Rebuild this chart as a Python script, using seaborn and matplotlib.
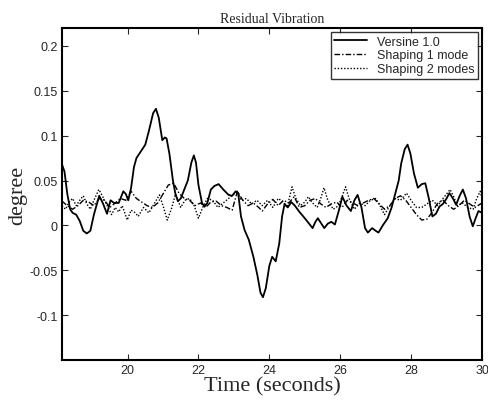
import numpy as np
import pandas as pd
import matplotlib
matplotlib.use("Agg")
import matplotlib.pyplot as plt
import seaborn as sns

# ---- data ----
t_versine = [18.15, 18.22, 18.3, 18.38, 18.45, 18.55, 18.65, 18.75, 18.85, 18.95,
             19.05, 19.2, 19.3, 19.42, 19.52, 19.62, 19.75, 19.88, 19.95, 20.02,
             20.1, 20.18, 20.25, 20.4, 20.5, 20.6, 20.72, 20.8, 20.88, 20.98,
             21.05, 21.1, 21.18, 21.28, 21.35, 21.42, 21.5, 21.6, 21.7, 21.8,
             21.87, 21.93, 22.0, 22.1, 22.17, 22.25, 22.35, 22.45, 22.57, 22.7,
             22.85, 22.95, 23.05, 23.12, 23.2, 23.3, 23.42, 23.55, 23.66, 23.75,
             23.82, 23.9, 24.0, 24.08, 24.18, 24.28, 24.36, 24.43, 24.52, 24.62,
             24.72, 24.85, 25.0, 25.12, 25.22, 25.3, 25.37, 25.45, 25.55, 25.65,
             25.75, 25.85, 25.95, 26.06, 26.18, 26.3, 26.4, 26.49, 26.6, 26.7,
             26.78, 26.9, 27.0, 27.08, 27.2, 27.34, 27.45, 27.57, 27.65, 27.72,
             27.82, 27.9, 27.98, 28.08, 28.19, 28.3, 28.4, 28.5, 28.6, 28.7,
             28.8, 28.9, 29.0, 29.08, 29.18, 29.27, 29.37, 29.46, 29.55, 29.65,
             29.74, 29.82, 29.9, 30.0]
y_versine = [0.068, 0.06, 0.035, 0.018, 0.014, 0.012, 0.005, -0.006, -0.009, -0.006,
             0.012, 0.033, 0.025, 0.013, 0.028, 0.025, 0.025, 0.038, 0.035, 0.028,
             0.042, 0.065, 0.075, 0.084, 0.09, 0.105, 0.125, 0.13, 0.12, 0.095,
             0.098, 0.097, 0.08, 0.05, 0.035, 0.027, 0.03, 0.04, 0.05, 0.07,
             0.078, 0.07, 0.045, 0.025, 0.021, 0.025, 0.04, 0.044, 0.046, 0.04,
             0.034, 0.033, 0.038, 0.036, 0.01, -0.005, -0.016, -0.035, -0.055, -0.075,
             -0.08, -0.07, -0.045, -0.035, -0.04, -0.02, 0.01, 0.024, 0.02, 0.026,
             0.022, 0.015, 0.008, 0.002, -0.003, 0.004, 0.008, 0.003, -0.003, 0.002,
             0.004, 0.001, 0.015, 0.032, 0.022, 0.016, 0.028, 0.034, 0.02, -0.003,
             -0.008, -0.003, -0.006, -0.008, 0.0, 0.008, 0.02, 0.038, 0.05, 0.069,
             0.085, 0.09, 0.08, 0.058, 0.042, 0.046, 0.047, 0.03, 0.01, 0.013,
             0.021, 0.024, 0.03, 0.036, 0.03, 0.023, 0.033, 0.04, 0.03, 0.01,
             -0.001, 0.008, 0.016, 0.014]

t_shape1 = [18.15, 18.3, 18.45, 18.6, 18.75, 18.9, 19.05, 19.2, 19.35, 19.5,
            19.65, 19.8, 19.95, 20.1, 20.25, 20.4, 20.55, 20.7, 20.85, 21.0,
            21.15, 21.3, 21.45, 21.6, 21.75, 21.9, 22.06, 22.2, 22.35, 22.5,
            22.65, 22.8, 22.95, 23.1, 23.25, 23.4, 23.55, 23.7, 23.8, 23.95,
            24.1, 24.25, 24.4, 24.55, 24.7, 24.85, 25.0, 25.15, 25.3, 25.45,
            25.6, 25.75, 25.9, 26.05, 26.2, 26.35, 26.5, 26.65, 26.8, 26.95,
            27.1, 27.25, 27.4, 27.55, 27.7, 27.85, 28.0, 28.15, 28.3, 28.45,
            28.6, 28.75, 28.9, 29.05, 29.2, 29.35, 29.5, 29.65, 29.8, 30.0]
y_shape1 = [0.027, 0.022, 0.018, 0.022, 0.028, 0.026, 0.022, 0.03, 0.028, 0.02,
            0.025, 0.03, 0.028, 0.038, 0.03, 0.026, 0.022, 0.02, 0.025, 0.035,
            0.045, 0.047, 0.036, 0.03, 0.028, 0.022, 0.025, 0.02, 0.026, 0.027,
            0.022, 0.02, 0.017, 0.038, 0.028, 0.022, 0.025, 0.02, 0.016, 0.024,
            0.029, 0.022, 0.028, 0.025, 0.032, 0.02, 0.022, 0.028, 0.03, 0.024,
            0.02, 0.024, 0.026, 0.02, 0.028, 0.025, 0.022, 0.025, 0.028, 0.03,
            0.024, 0.018, 0.022, 0.03, 0.033, 0.028, 0.02, 0.012, 0.006, 0.007,
            0.015, 0.025, 0.028, 0.022, 0.018, 0.022, 0.028, 0.024, 0.02, 0.025]

t_shape2 = [18.15, 18.25, 18.35, 18.45, 18.55, 18.65, 18.75, 18.85, 18.95, 19.05,
            19.19, 19.3, 19.45, 19.55, 19.65, 19.75, 19.85, 19.99, 20.1, 20.22,
            20.3, 20.45, 20.6, 20.75, 20.9, 21.0, 21.12, 21.25, 21.35, 21.5,
            21.62, 21.75, 21.88, 22.0, 22.12, 22.25, 22.4, 22.55, 22.7, 22.85,
            23.0, 23.1, 23.2, 23.35, 23.5, 23.65, 23.8, 23.95, 24.1, 24.25,
            24.4, 24.5, 24.64, 24.75, 24.88, 25.0, 25.1, 25.22, 25.35, 25.45,
            25.54, 25.65, 25.8, 25.95, 26.05, 26.15, 26.25, 26.4, 26.55, 26.7,
            26.85, 27.0, 27.12, 27.25, 27.4, 27.55, 27.7, 27.87, 28.0, 28.15,
            28.3, 28.45, 28.6, 28.75, 28.9, 29.1, 29.2, 29.3, 29.45, 29.6,
            29.75, 29.85, 29.95, 30.0]
y_shape2 = [0.022, 0.018, 0.026, 0.03, 0.022, 0.028, 0.033, 0.024, 0.018, 0.028,
            0.04, 0.032, 0.02, 0.012, 0.02, 0.015, 0.022, 0.006, 0.017, 0.014,
            0.01, 0.02, 0.014, 0.024, 0.034, 0.022, 0.006, 0.02, 0.035, 0.02,
            0.028, 0.03, 0.022, 0.008, 0.02, 0.03, 0.028, 0.02, 0.025, 0.03,
            0.035, 0.038, 0.028, 0.03, 0.024, 0.028, 0.022, 0.028, 0.02, 0.03,
            0.026, 0.02, 0.043, 0.03, 0.022, 0.026, 0.032, 0.025, 0.02, 0.03,
            0.042, 0.028, 0.018, 0.022, 0.032, 0.043, 0.03, 0.018, 0.025, 0.022,
            0.028, 0.03, 0.022, 0.012, 0.022, 0.03, 0.028, 0.036, 0.028, 0.02,
            0.02, 0.024, 0.028, 0.022, 0.03, 0.04, 0.032, 0.022, 0.025, 0.02,
            0.018, 0.03, 0.038, 0.03]

series_names = ["Versine 1.0", "Shaping 1 mode", "Shaping 2 modes"]
x_ticks = [20, 22, 24, 26, 28, 30]
y_ticks = [-0.1, -0.05, 0, 0.05, 0.1, 0.15, 0.2]
y_tick_labels = ["-0.1", "-0.05", "0", "0.05", "0.1", "0.15", "0.2"]

# ---- plot ----
sns.set_style("white")
plt.rcParams["font.family"] = ["Liberation Sans", "DejaVu Sans"]

fig = plt.figure(figsize=(4.88, 4.02), dpi=100)
ax = fig.add_axes([62 / 488, 1 - 361 / 402, 420 / 488, 332 / 402])

df1 = pd.DataFrame({"t": t_versine, "y": y_versine})
df2 = pd.DataFrame({"t": t_shape1, "y": y_shape1})
df3 = pd.DataFrame({"t": t_shape2, "y": y_shape2})

sns.lineplot(data=df1, x="t", y="y", ax=ax, color="black", lw=1.3,
             linestyle="-", label=series_names[0])
sns.lineplot(data=df2, x="t", y="y", ax=ax, color="black", lw=1.0,
             linestyle=(0, (4, 1.5, 1, 1.5)), label=series_names[1])
sns.lineplot(data=df3, x="t", y="y", ax=ax, color="black", lw=1.0,
             linestyle=(0, (1, 1.3)), label=series_names[2])

ax.set_xlim(18.15, 30)
ax.set_ylim(-0.15, 0.22)
ax.set_xticks(x_ticks)
ax.set_xticklabels([str(v) for v in x_ticks])
ax.set_yticks(y_ticks)
ax.set_yticklabels(y_tick_labels)
ax.tick_params(direction="in", length=4, width=0.8, labelsize=9,
               top=True, right=True, bottom=True, left=True, pad=3)
for s in ax.spines.values():
    s.set_linewidth(1.5)
    s.set_color("black")

ax.set_xlabel("Time (seconds)", fontsize=16, family=["Liberation Serif"], labelpad=0)
ax.set_ylabel("degree", fontsize=16, family=["Liberation Serif"], labelpad=2)
ax.set_title("Residual Vibration", fontsize=10, family=["Liberation Serif"], pad=4)

leg = ax.legend(loc="upper right", fontsize=9, frameon=True, fancybox=False,
                borderpad=0.3, labelspacing=0.15, handlelength=2.6,
                handletextpad=0.8, borderaxespad=0.3)
leg.get_frame().set_edgecolor("black")
leg.get_frame().set_linewidth(1.0)

fig.savefig("out.png", dpi=100)
